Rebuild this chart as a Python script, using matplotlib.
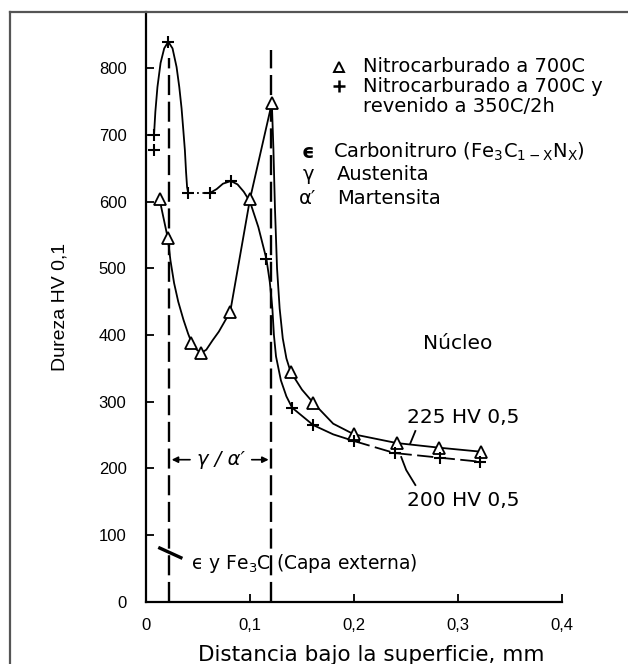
import numpy as np
import matplotlib
matplotlib.use("Agg")
import matplotlib.pyplot as plt
from matplotlib.lines import Line2D

# --- values ---
# marker points, nitrocarburado a 700C (triangles)
tri_x = [0.013, 0.021, 0.043, 0.053, 0.081, 0.100, 0.121, 0.139, 0.161, 0.200, 0.241, 0.282, 0.322]
tri_y = [604, 545, 388, 373, 435, 604, 748, 345, 298, 251, 238, 231, 225]

# hand-drawn curve through the triangles
tri_curve_x = [0.013, 0.021, 0.0235, 0.027, 0.031, 0.036, 0.0405, 0.043, 0.048, 0.053, 0.058, 0.064,
               0.070, 0.081, 0.100, 0.121, 0.1225, 0.124, 0.126, 0.1285, 0.1315, 0.135, 0.139,
               0.150, 0.161, 0.180, 0.200, 0.241, 0.282, 0.322]
tri_curve_y = [604, 545, 512, 478, 450, 423, 402, 392, 379, 373, 378, 392,
               405, 435, 604, 748, 680, 590, 500, 440, 395, 365, 345,
               318, 298, 267, 251, 238, 231, 225]

# marker points, nitrocarburado + revenido 350C/2h (plus)
plus_x = [0.0077, 0.0077, 0.0214, 0.0406, 0.0614, 0.0816, 0.1158, 0.1405, 0.1607, 0.200, 0.239, 0.2826, 0.321]
plus_y = [700, 678, 840, 613, 613, 631, 514, 291, 265, 241, 223, 216, 210]

# curve pieces through the plus points (solid / dashed as drawn)
plus_a_x = [0.0077, 0.0090, 0.0110, 0.0140, 0.0175, 0.0214, 0.0255, 0.0294, 0.0320, 0.0342, 0.0360, 0.0374, 0.0385, 0.0395, 0.0406]
plus_a_y = [700, 735, 772, 808, 830, 840, 830, 802, 772, 740, 705, 677, 645, 622, 613]
plus_b_x = [0.0406, 0.0614]
plus_b_y = [613, 613]
plus_c_x = [0.0614, 0.0680, 0.0740, 0.0816, 0.0880, 0.0940, 0.1000, 0.1080, 0.1158, 0.1190, 0.1215,
            0.1230, 0.1250, 0.1297, 0.1350, 0.1405, 0.1607, 0.1800, 0.2000]
plus_c_y = [613, 619, 627, 631, 626, 615, 600, 562, 514, 480, 440,
            400, 368, 332, 308, 291, 265, 251, 241]
plus_d_x = [0.200, 0.239, 0.2826, 0.321]
plus_d_y = [241, 223, 216, 210]

# dashed boundary lines (x position, top)
bound_x = [0.022, 0.1206]
bound_top = [815, 827]

x_ticks = [0, 0.1, 0.2, 0.3, 0.4]
x_labels = ["0", "0,1", "0,2", "0,3", "0,4"]
y_ticks = [0, 100, 200, 300, 400, 500, 600, 700, 800]

W, H = 628, 664
fig = plt.figure(figsize=(W / 100, H / 100), dpi=100)


def px(x, y):
    return x / W, 1 - y / H


# axes box in pixels: left 146, right 562, top 11.7, bottom 601.7
ax = fig.add_axes([146 / W, (H - 601.7) / H, 416 / W, 590 / H])
ax.set_xlim(0, 0.4)
ax.set_ylim(0, 885)
for s in ["top", "right"]:
    ax.spines[s].set_visible(False)
for s in ["left", "bottom"]:
    ax.spines[s].set_linewidth(1.6)

ax.set_xticks(x_ticks)
ax.set_xticklabels(x_labels)
ax.set_yticks(y_ticks)
ax.tick_params(direction="in", length=6, width=1.3, labelsize=12)
ax.tick_params(axis="y", pad=14)
ax.tick_params(axis="x", pad=12)
for lab in ax.get_xticklabels() + ax.get_yticklabels():
    lab.set_family("Liberation Sans")

# boundary lines
for bx, bt in zip(bound_x, bound_top):
    ax.plot([bx, bx], [0, bt], color="black", lw=1.7, dashes=(8.5, 2.8))

# curves
ax.plot(tri_curve_x, tri_curve_y, color="black", lw=1.3)
ax.plot(plus_a_x, plus_a_y, color="black", lw=1.3)
ax.plot(plus_b_x, plus_b_y, color="black", lw=1.3, dashes=(3, 2, 1, 2))
ax.plot(plus_c_x, plus_c_y, color="black", lw=1.3)
ax.plot(plus_d_x, plus_d_y, color="black", lw=1.3, dashes=(9, 3))

# markers
ax.plot(tri_x, tri_y, ls="none", marker="^", ms=8, mfc="white", mec="black", mew=1.3, zorder=5)
ax.plot(plus_x, plus_y, ls="none", marker="+", ms=8, mec="black", mew=1.5, zorder=5)

ann = dict(family="DejaVu Sans", color="black")

# gamma / alpha' band
ax.annotate("", xy=(0.022, 213), xytext=(0.045, 213),
            arrowprops=dict(arrowstyle="-|>", mutation_scale=9, lw=1.2, color="black"))
ax.annotate("", xy=(0.1206, 213), xytext=(0.099, 213),
            arrowprops=dict(arrowstyle="-|>", mutation_scale=9, lw=1.2, color="black"))
ax.text(0.072, 213, "γ / α′", fontsize=14, style="italic", ha="center", va="center", **ann)

# outer layer note
ax.plot([0.0118, 0.035], [81.5, 65], color="black", lw=2.4, solid_capstyle="butt")
ax.text(0.043, 58, "ϵ y Fe$_3$C (Capa externa)", fontsize=13.5, ha="left", va="center", **ann)

# core labels
ax.text(0.2994, 388, "Núcleo", fontsize=14.5, ha="center", va="center", **ann)
ax.text(0.2514, 276, "225 HV 0,5", fontsize=14.5, ha="left", va="center", **ann)
ax.text(0.2514, 152, "200 HV 0,5", fontsize=14.5, ha="left", va="center", **ann)
ax.plot([0.259, 0.254], [256, 237], color="black", lw=1.3)
ax.plot([0.2454, 0.2502, 0.259], [217, 197.5, 175], color="black", lw=1.3)

# legend block, placed in figure pixels
leg_fs = 14
fig.add_artist(Line2D([px(339, 67)[0]], [px(339, 67)[1]], marker="^", ms=7,
                      mfc="white", mec="black", mew=1.4, transform=fig.transFigure))
fig.add_artist(Line2D([px(339, 86)[0]], [px(339, 86)[1]], marker="+", ms=8,
                      mec="black", mew=1.8, transform=fig.transFigure))
fig.text(*px(363, 67), "Nitrocarburado a 700C", fontsize=leg_fs, va="center", **ann)
fig.text(*px(363, 87), "Nitrocarburado a 700C y", fontsize=leg_fs, va="center", **ann)
fig.text(*px(363, 106), "revenido a 350C/2h", fontsize=leg_fs, va="center", **ann)
fig.text(*px(308, 152), "ϵ", fontsize=leg_fs, fontweight="bold", ha="center", va="center", **ann)
fig.text(*px(333, 152), r"Carbonitruro (Fe$_3$C$_{\mathrm{1-X}}$N$_{\mathrm{X}}$)",
         fontsize=leg_fs, va="center", **ann)
fig.text(*px(308, 175), "γ", fontsize=leg_fs, ha="center", va="center", **ann)
fig.text(*px(337, 175), "Austenita", fontsize=leg_fs, va="center", **ann)
fig.text(*px(308, 199), "α′", fontsize=leg_fs, ha="center", va="center", **ann)
fig.text(*px(337, 199), "Martensita", fontsize=leg_fs, va="center", **ann)

# axis titles
fig.text(*px(60, 307), "Dureza HV 0,1", fontsize=14, family="Liberation Sans",
         rotation=90, ha="center", va="center")
fig.text(*px(371, 655), "Distancia bajo la superficie, mm", fontsize=15.5,
         family="DejaVu Sans", ha="center", va="center")

# outer frame of the scanned figure
frame = dict(color="#555555", lw=1.6, transform=fig.transFigure)
fig.add_artist(Line2D([10 / W, 10 / W], [0, 1 - 11.7 / H], **frame))
fig.add_artist(Line2D([10 / W, 1], [1 - 11.7 / H, 1 - 11.7 / H], **frame))

fig.savefig("out.png", dpi=100, facecolor="white")
